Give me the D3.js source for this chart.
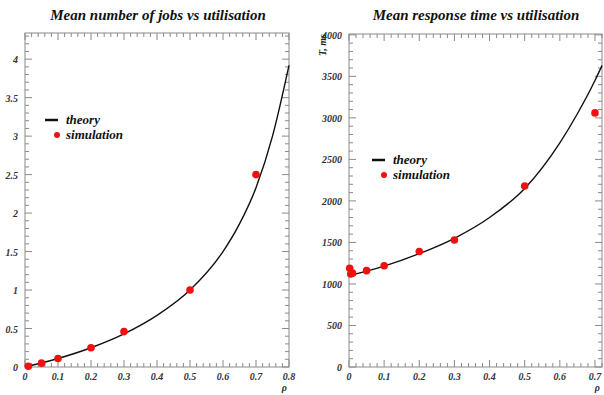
<!DOCTYPE html>
<html>
<head>
<meta charset="utf-8">
<title>queue charts</title>
<script src="https://cdn.jsdelivr.net/npm/d3@7"></script>
<style>
body { margin: 0; background: #fff; }
text { font-family: "Liberation Serif", "DejaVu Serif", serif; font-style: italic; font-weight: bold; }
</style>
</head>
<body>
<script>
// left chart: mean number of jobs
var jobsTheoryRho = [0, 0.1, 0.2, 0.3, 0.4, 0.5, 0.6, 0.65, 0.7, 0.75, 0.8];
var jobsTheory    = [0, 0.11, 0.25, 0.43, 0.67, 1.0, 1.5, 1.86, 2.33, 3.0, 3.92];
var jobsSimRho = [0.01, 0.05, 0.1, 0.2, 0.3, 0.5, 0.7];
var jobsSim    = [0.01, 0.05, 0.11, 0.25, 0.46, 1.0, 2.5];
var jobsYTicks = [0, 0.5, 1, 1.5, 2, 2.5, 3, 3.5, 4];
var jobsXTicks = [0, 0.1, 0.2, 0.3, 0.4, 0.5, 0.6, 0.7, 0.8];

// right chart: mean response time
var respTheoryRho = [0, 0.1, 0.2, 0.3, 0.4, 0.5, 0.6, 0.65, 0.7, 0.72];
var respTheory    = [1100, 1215, 1365, 1550, 1800, 2150, 2700, 3050, 3450, 3630];
var respSimRho = [0.002, 0.005, 0.01, 0.05, 0.1, 0.2, 0.3, 0.5, 0.7];
var respSim    = [1190, 1120, 1130, 1160, 1220, 1390, 1530, 2180, 3060];
var respYTicks = [0, 500, 1000, 1500, 2000, 2500, 3000, 3500, 4000];
var respXTicks = [0, 0.1, 0.2, 0.3, 0.4, 0.5, 0.6, 0.7];

var svg = d3.select("body").append("svg")
  .attr("width", 604)
  .attr("height", 395);

function panel(o) {
  var x = d3.scaleLinear().domain(o.xDomain).range([o.left, o.right]);
  var y = d3.scaleLinear().domain(o.yDomain).range([o.bottom, o.top]);
  var g = svg.append("g");
  var frame = "#8a8a8a";

  // minor ticks on all four sides
  var xMinor = d3.range(0, o.xDomain[1] + 1e-9, o.xMinorStep);
  var yMinor = d3.range(0, o.yDomain[1] + 1e-9, o.yMinorStep);
  function isMajor(v, ticks) { return ticks.some(function(t) { return Math.abs(t - v) < 1e-9; }); }

  g.selectAll(".xb").data(xMinor).enter().append("line")
    .attr("x1", x).attr("x2", x)
    .attr("y1", o.bottom).attr("y2", function(d) { return o.bottom - (isMajor(d, o.xTicks) ? 7 : 4); })
    .attr("stroke", frame);
  g.selectAll(".xt").data(xMinor).enter().append("line")
    .attr("x1", x).attr("x2", x)
    .attr("y1", o.top).attr("y2", function(d) { return o.top + (isMajor(d, o.xTicks) ? 7 : 4); })
    .attr("stroke", frame);
  g.selectAll(".yl").data(yMinor).enter().append("line")
    .attr("y1", y).attr("y2", y)
    .attr("x1", o.left).attr("x2", function(d) { return o.left + (isMajor(d, o.yTicks) ? 7 : 4); })
    .attr("stroke", frame);
  g.selectAll(".yr").data(yMinor).enter().append("line")
    .attr("y1", y).attr("y2", y)
    .attr("x1", o.right).attr("x2", function(d) { return o.right - (isMajor(d, o.yTicks) ? 7 : 4); })
    .attr("stroke", frame);

  g.append("rect")
    .attr("x", o.left).attr("y", o.top)
    .attr("width", o.right - o.left).attr("height", o.bottom - o.top)
    .attr("fill", "none").attr("stroke", frame);

  // tick labels
  g.selectAll(".xl").data(o.xTicks).enter().append("text")
    .attr("x", x).attr("y", o.bottom + 13)
    .attr("text-anchor", "middle").attr("font-size", "10px").attr("fill", "#333")
    .text(function(d) { return d; });
  g.selectAll(".ylab").data(o.yTicks).enter().append("text")
    .attr("x", o.left - 7).attr("y", function(d) { return y(d) + 4; })
    .attr("text-anchor", "end").attr("font-size", "10px").attr("fill", "#333")
    .text(function(d) { return d; });

  g.append("text")
    .attr("x", o.right - 2).attr("y", o.bottom + 24)
    .attr("text-anchor", "end").attr("font-size", "10px").attr("font-weight", "normal")
    .attr("fill", "#333")
    .text("ρ");

  g.append("text")
    .attr("x", o.titleX).attr("y", 20)
    .attr("text-anchor", "middle").attr("font-size", "15px").attr("fill", "#111")
    .text(o.title);

  // theory curve
  var pts = o.theoryRho.map(function(r, i) { return [r, o.theory[i]]; });
  var line = d3.line()
    .x(function(d) { return x(d[0]); })
    .y(function(d) { return y(d[1]); })
    .curve(d3.curveMonotoneX);
  g.append("path").datum(pts)
    .attr("d", line).attr("fill", "none")
    .attr("stroke", "#111").attr("stroke-width", 1.4);

  // simulation points
  g.selectAll(".sim").data(o.simRho).enter().append("circle")
    .attr("cx", function(d) { return x(d); })
    .attr("cy", function(d, i) { return y(o.sim[i]); })
    .attr("r", 3.8).attr("fill", "#f01010");

  // legend
  g.append("line")
    .attr("x1", o.legX).attr("x2", o.legX + 13)
    .attr("y1", o.legY).attr("y2", o.legY)
    .attr("stroke", "#111").attr("stroke-width", 2.5);
  g.append("text").attr("x", o.legX + 21).attr("y", o.legY + 4)
    .attr("font-size", "13px").attr("fill", "#111").text("theory");
  g.append("circle")
    .attr("cx", o.legX + 12).attr("cy", o.legY + 15).attr("r", 3)
    .attr("fill", "#f01010");
  g.append("text").attr("x", o.legX + 21).attr("y", o.legY + 19)
    .attr("font-size", "13px").attr("fill", "#111").text("simulation");

  return g;
}

panel({
  left: 25, right: 289, top: 33, bottom: 367,
  xDomain: [0, 0.8], yDomain: [0, 4.34],
  xMinorStep: 0.02, yMinorStep: 0.1,
  xTicks: jobsXTicks, yTicks: jobsYTicks,
  theoryRho: jobsTheoryRho, theory: jobsTheory,
  simRho: jobsSimRho, sim: jobsSim,
  title: "Mean number of jobs vs utilisation", titleX: 158,
  legX: 45, legY: 120
});

var right = panel({
  left: 349, right: 602, top: 34, bottom: 367,
  xDomain: [0, 0.72], yDomain: [0, 4010],
  xMinorStep: 0.02, yMinorStep: 100,
  xTicks: respXTicks, yTicks: respYTicks,
  theoryRho: respTheoryRho, theory: respTheory,
  simRho: respSimRho, sim: respSim,
  title: "Mean response time vs utilisation", titleX: 476,
  legX: 372, legY: 160
});

right.append("text")
  .attr("transform", "translate(326,34) rotate(-90)")
  .attr("text-anchor", "end").attr("font-size", "10px").attr("fill", "#222")
  .text("T, ms");
</script>
</body>
</html>
